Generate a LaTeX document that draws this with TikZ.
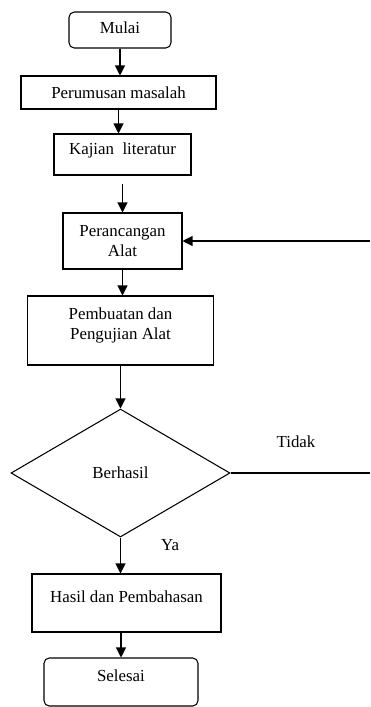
\documentclass[tikz,border=0pt]{standalone}
\usepackage{fontspec}
\setmainfont{Liberation Serif}
\usetikzlibrary{shapes.geometric,arrows.meta}
\tikzset{
  kotak/.style={draw, rectangle, align=center, inner sep=0pt, line width=0.6pt, font=\fontsize{9.6}{11.5}\selectfont},
  ujung/.style={kotak, rounded corners=3pt},
  cabang/.style={kotak, diamond},
  panah/.style={line width=0.6pt, -{Triangle[length=2mm,width=2mm]}},
  garis/.style={line width=0.6pt},
  teks/.style={font=\fontsize{9.6}{11.5}\selectfont, inner sep=0pt}
}

\begin{document}
\begin{tikzpicture}[x=0.02cm, y=-0.02cm]
\useasboundingbox (0,0) rectangle (370,707);
\node[ujung, minimum width=2.04cm, minimum height=0.72cm, text depth=0.1cm] (mulai) at (120,30) {Mulai};
\node[kotak, minimum width=3.9cm, minimum height=0.66cm] (rumus) at (118.5,92.5) {Perumusan masalah};
\node[kotak, minimum width=2.74cm, minimum height=0.82cm, text depth=0.25cm] (kajian) at (122.5,154.5) {Kajian\ \ literatur};
\node[kotak, minimum width=2.38cm, minimum height=1.12cm] (rancang) at (122.5,241) {Perancangan\\Alat};
\node[kotak, minimum width=3.72cm, minimum height=1.38cm, text depth=0.27cm] (buat) at (120.5,330.5) {Pembuatan dan\\Pengujian Alat};
\node[cabang, minimum width=4.38cm, minimum height=2.56cm] (cek) at (120.5,473) {Berhasil};
\node[kotak, minimum width=3.78cm, minimum height=1.16cm, text depth=0.24cm] (hasil) at (126.5,603) {Hasil dan Pembahasan};
\node[ujung, minimum width=3.08cm, minimum height=0.96cm, text depth=0.24cm] (selesai) at (121,682) {Selesai};
\coordinate (kanan1) at (370,241);
\coordinate (kanan2) at (370,473);
\draw[panah] (mulai) -- (mulai |- rumus.north);
\draw[panah] (rumus) -- (rumus |- kajian.north);
\draw[panah] ([yshift=-0.16cm]kajian.south) -- ([yshift=0.3cm]rancang.north) -- (rancang.north);
\draw[panah] (rancang) -- (rancang |- buat.north);
\draw[panah] (buat.south -| cek.north) -- ([yshift=0.3cm]cek.north) -- (cek.north);
\draw[panah] (cek.south) -- ([yshift=0.3cm]cek.south |- hasil.north) -- (cek.south |- hasil.north);
\draw[panah] (selesai |- hasil.south) -- (selesai.north);
\draw[panah] (kanan1) -- (rancang.east);
\draw[garis] (cek.east) -- (kanan2);
\node[teks] (tidak) at (296,442) {Tidak};
\node[teks] (ya) at (170,545) {Ya};
\end{tikzpicture}
\end{document}
